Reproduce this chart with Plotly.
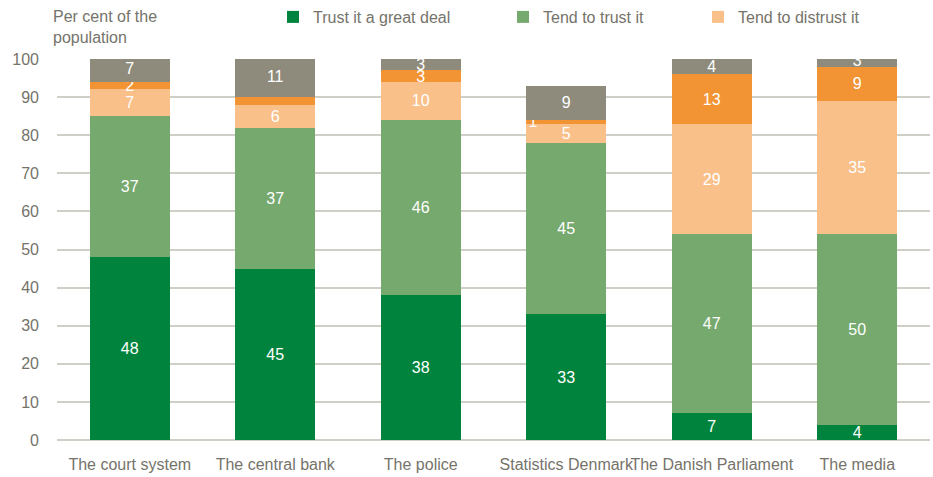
import plotly.graph_objects as go

categories = ["The court system", "The central bank", "The police",
              "Statistics Denmark", "The Danish Parliament", "The media"]
trust_great = [48, 45, 38, 33, 7, 4]
tend_trust = [37, 37, 46, 45, 47, 50]
tend_distrust = [7, 6, 10, 5, 29, 35]
distrust_great = [2, 2, 3, 1, 13, 9]
dont_know = [7, 11, 3, 9, 4, 3]
distrust_great_labels = ["2", "", "3", "1", "13", "9"]
y_ticks = [0, 10, 20, 30, 40, 50, 60, 70, 80, 90, 100]

FONT = "Liberation Sans, Arial, sans-serif"
TXT = "#75736a"

# Style: shift the tiny "1" label (Statistics Denmark) to the left as in the original
dg_text = list(distrust_great_labels)
dg_text[3] = dg_text[3] + "\u00a0" * 15

series = [
    ("Trust it a great deal", trust_great, "#00843d", [str(v) for v in trust_great], True, "legend"),
    ("Tend to trust it", tend_trust, "#76a96e", [str(v) for v in tend_trust], True, "legend2"),
    ("Tend to distrust it", tend_distrust, "#f9c08a", [str(v) for v in tend_distrust], True, "legend3"),
    ("Distrust it a great deal", distrust_great, "#f29433", dg_text, False, "legend"),
    ("Don't know", dont_know, "#8e8b7c", [str(v) for v in dont_know], False, "legend"),
]

fig = go.Figure()
for name, vals, col, labels, show, leg in series:
    fig.add_trace(go.Bar(
        x=categories, y=vals, name=name, marker=dict(color=col, line=dict(width=0)),
        text=labels, textposition="inside", insidetextanchor="middle",
        textangle=0, constraintext="none", cliponaxis=True,
        textfont=dict(family=FONT, size=16, color="white"),
        showlegend=show, legend=leg,
    ))

leg_common = dict(orientation="h", yanchor="middle", xanchor="left",
                  font=dict(family=FONT, size=16, color=TXT), bgcolor="rgba(0,0,0,0)",
                  itemwidth=30, tracegroupgap=0)

W, H = 933, 477
ml, mr, mt, mb = 57, 3, 59, 37
pw = W - ml - mr
ph = H - mt - mb

def px_x(x):
    return (x - ml) / pw

def px_y(y):
    return 1 - (y - mt) / ph

fig.update_layout(
    width=W, height=H,
    margin=dict(l=ml, r=mr, t=mt, b=mb, pad=0, autoexpand=False),
    barmode="stack", bargap=0.45,
    plot_bgcolor="white", paper_bgcolor="white",
    font=dict(family=FONT, size=16, color=TXT),
    legend=dict(x=px_x(273), y=px_y(17), **leg_common),
    legend2=dict(x=px_x(503), y=px_y(17), **leg_common),
    legend3=dict(x=px_x(698), y=px_y(17), **leg_common),
    xaxis=dict(showgrid=False, showline=False, ticks="outside", ticklen=10,
               tickangle=0, automargin=False,
               tickcolor="rgba(0,0,0,0)", tickfont=dict(family=FONT, size=16, color=TXT)),
    yaxis=dict(range=[0, 100], tickvals=y_ticks, showgrid=True, automargin=False,
               gridcolor="#cfcfc8", gridwidth=1.5, zeroline=True,
               zerolinecolor="#cfcfc8", zerolinewidth=1.5,
               ticklabelstandoff=17, tickfont=dict(family=FONT, size=16, color=TXT)),
    annotations=[dict(text="Per cent of the<br>population", xref="paper", yref="paper",
                      x=px_x(51), y=px_y(6), xanchor="left", yanchor="top", align="left",
                      showarrow=False, font=dict(family=FONT, size=16, color=TXT))],
)

fig.write_html("out.html")
